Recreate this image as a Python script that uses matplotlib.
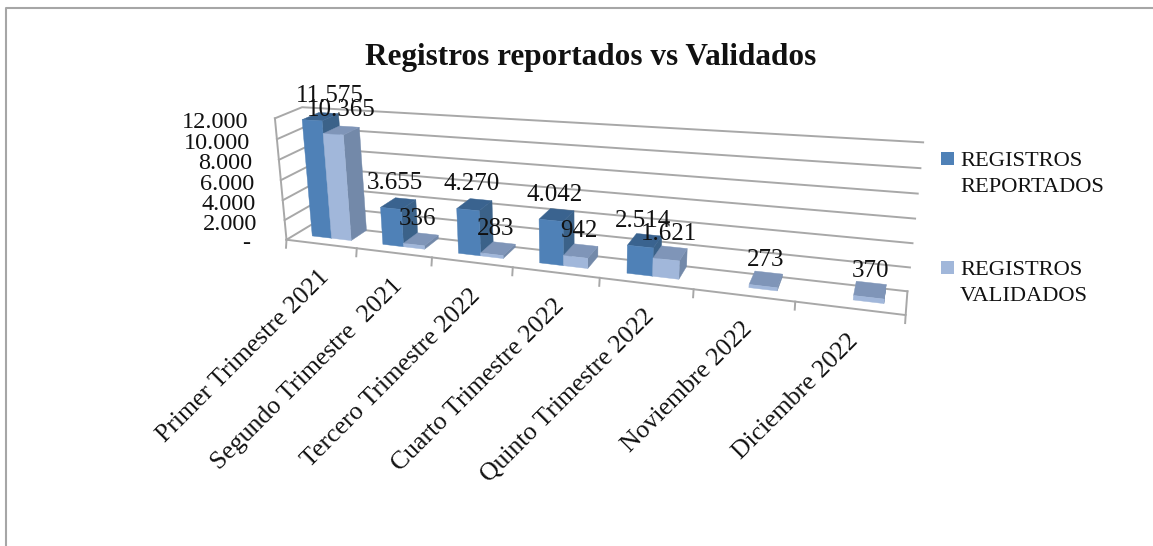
import numpy as np
import matplotlib
matplotlib.use("Agg")
import matplotlib.pyplot as plt
from matplotlib.patches import Polygon, Rectangle

plt.rcParams['font.family'] = ['Liberation Serif', 'DejaVu Serif']

categories = ['Primer Trimestre 2021', 'Segundo Trimestre  2021', 'Tercero Trimestre 2022',
              'Cuarto Trimestre 2022', 'Quinto Trimestre 2022', 'Noviembre 2022', 'Diciembre 2022']
reportados = [11575, 3655, 4270, 4042, 2514, 0, 0]
validados = [10365, 336, 283, 942, 1621, 273, 370]
y_ticks = [0, 2000, 4000, 6000, 8000, 10000, 12000]
y_labels = ['-', '2.000', '4.000', '6.000', '8.000', '10.000', '12.000']
series_names = ['REGISTROS\nREPORTADOS', 'REGISTROS\nVALIDADOS']

# (front, side, top) colours of each series
COLORS = [('#4F81B7', '#3B6289', '#3A638F'), ('#A1B7DA', '#7389A9', '#7F95B8')]
GRID = '#A8A8A8'
Y_MAX = 12000.0

# where the plot box sits in the picture: (category, depth, value) -> pixel
anchors = [
    (0, 0, 0, 288, 240), (1, 0, 0, 358, 248.5), (2, 0, 0, 432, 257.5), (3, 0, 0, 513, 267.5),
    (4, 0, 0, 599, 278), (5, 0, 0, 693, 289.5), (6, 0, 0, 795, 302), (7, 0, 0, 906, 315),
    (0, 1, 0, 310, 224), (7, 1, 0, 908, 290),
    (0, 0, 1, 273, 117), (0, 1, 1, 304, 108), (7, 1, 1, 923, 143),
]

# the two tallest labels sit further right than the others
label_shift = {(0, 0): 13, (0, 1): 3}


def fit_camera(points):
    rows, rhs = [], []
    for u, d, v, px, py in points:
        rows.append([u, d, v, 1, 0, 0, 0, 0, -px * u, -px * d, -px * v])
        rows.append([0, 0, 0, 0, u, d, v, 1, -py * u, -py * d, -py * v])
        rhs += [px, py]
    sol = np.linalg.lstsq(np.array(rows, float), np.array(rhs, float), rcond=None)[0]
    return np.append(sol, 1.0).reshape(3, 4)


CAM = fit_camera(anchors)


def proj(u, d, value):
    p = CAM @ np.array([u, d, value / Y_MAX, 1.0])
    return p[0] / p[2], p[1] / p[2]


def draw_bar(ax, u0, u1, d0, d1, value, cols):
    front, side, top = cols
    ax.add_patch(Polygon([proj(u1, d0, 0), proj(u1, d1, 0), proj(u1, d1, value), proj(u1, d0, value)],
                         fc=side, ec=side, lw=0.3))
    ax.add_patch(Polygon([proj(u0, d0, value), proj(u1, d0, value), proj(u1, d1, value), proj(u0, d1, value)],
                         fc=top, ec=top, lw=0.3))
    ax.add_patch(Polygon([proj(u0, d0, 0), proj(u1, d0, 0), proj(u1, d0, value), proj(u0, d0, value)],
                         fc=front, ec=front, lw=0.3))


fig = plt.figure(figsize=(11.53, 5.46), dpi=100)
ax = fig.add_axes([0, 0, 1, 1])
ax.set_xlim(0, 1153)
ax.set_ylim(546, 0)
ax.axis('off')

# outer frame, only top and left show in the crop
ax.plot([6, 6, 1153], [546, 7.5, 7.5], color='#A6A6A6', lw=1.5)

# walls
for t, lab in zip(y_ticks, y_labels):
    a, b, c = proj(0, 0, t), proj(0, 1, t), proj(7, 1, t)
    ax.plot([a[0], b[0], c[0]], [a[1], b[1], c[1]], color=GRID, lw=1.4, zorder=1)
    off = 36 if lab == '-' else 27
    ax.text(a[0] - off, a[1] + 4, lab, ha='right', va='center', fontsize=17.5, color='#111111')
a, b = proj(0, 0, 0), proj(0, 0, Y_MAX)
ax.plot([a[0], b[0]], [a[1], b[1]], color=GRID, lw=1.4, zorder=1)

# floor edges and ticks
a, b, c = proj(0, 0, 0), proj(7, 0, 0), proj(7, 1, 0)
ax.plot([a[0], b[0], c[0]], [a[1], b[1], c[1]], color=GRID, lw=1.4, zorder=1)
for i in range(8):
    p = proj(i, 0, 0)
    ax.plot([p[0], p[0] - 0.5], [p[1], p[1] + 8], color=GRID, lw=1.4, zorder=1)

# bars, left to right so the nearer ones paint over
BAR_W, MARGIN, D0, D1 = 0.28, 0.24, 0.36, 1.0
for i in range(len(categories)):
    for s, vals in enumerate([reportados, validados]):
        if vals[i] > 0:
            u0 = i + MARGIN + s * BAR_W
            draw_bar(ax, u0, u0 + BAR_W, D0, D1, vals[i], COLORS[s])

# data labels go over all bars
for i in range(len(categories)):
    for s, vals in enumerate([reportados, validados]):
        if vals[i] > 0:
            px, py = proj(i + MARGIN + (s + 0.5) * BAR_W, 0.5, vals[i])
            txt = f'{vals[i]:,}'.replace(',', '.')
            ax.text(px + 1 + label_shift.get((i, s), 0), py - 23, txt, ha='center', va='center',
                    fontsize=18, color='#111111', zorder=5)

# category labels
for i, cat in enumerate(categories):
    px, py = proj(i + 0.5, 0, 0)
    ax.text(px + 5, py + 30, cat, rotation=45, rotation_mode='anchor', ha='right', va='center',
            fontsize=18.5, color='#111111')

ax.text(591, 58, 'Registros reportados vs Validados', ha='center', va='center',
        fontsize=22.5, fontweight='bold', color='#111111')

# legend
for (ytop, name, cols) in zip([152, 261], series_names, COLORS):
    ax.add_patch(Rectangle((941, ytop), 13, 13, fc=cols[0], ec='none'))
    ax.text(960, ytop + 22.5, name, ha='left', va='center', fontsize=16.2, color='#111111', linespacing=1.55)

fig.savefig('out.png', dpi=100)
